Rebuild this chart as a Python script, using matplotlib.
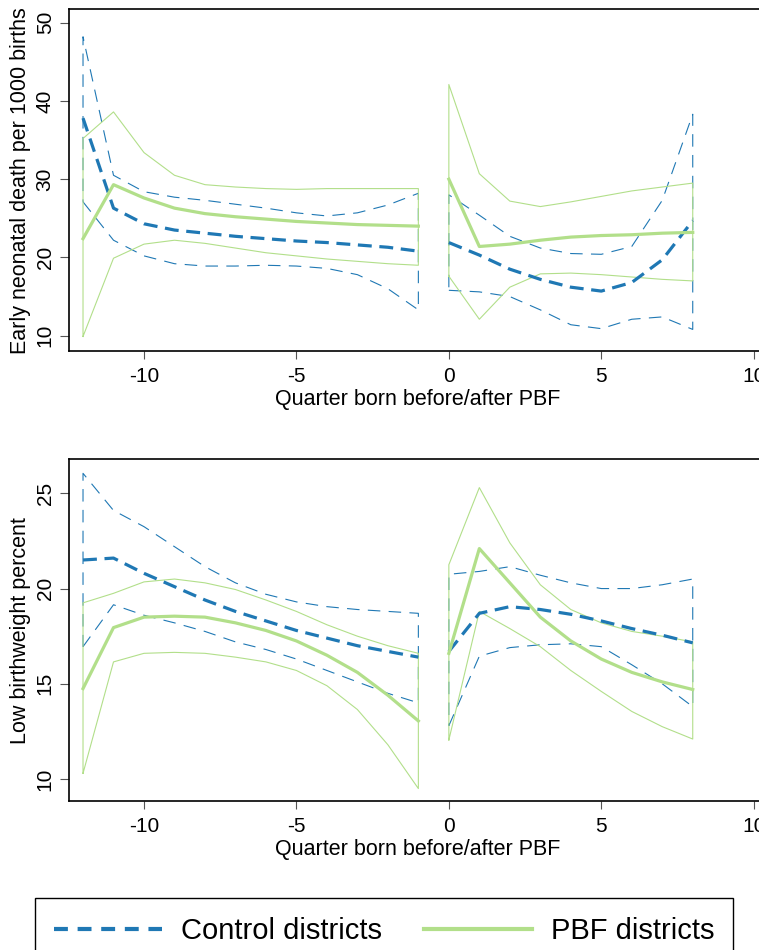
import matplotlib
matplotlib.use('Agg')
import matplotlib.pyplot as plt
from matplotlib.lines import Line2D

plt.rcParams['font.family'] = ['Liberation Sans', 'DejaVu Sans']
plt.rcParams['lines.scale_dashes'] = False
plt.rcParams['axes.unicode_minus'] = False

quarters = [-12, -11, -10, -9, -8, -7, -6, -5, -4, -3, -2, -1,
            0, 1, 2, 3, 4, 5, 6, 7, 8]

# early neonatal death per 1000 births
death_control_mean = [37.8, 26.3, 24.3, 23.5, 23.1, 22.7, 22.4, 22.1, 21.9, 21.6, 21.3, 20.8,
                      21.9, 20.3, 18.5, 17.2, 16.2, 15.7, 16.8, 19.7, 24.7]
death_control_hi = [48.2, 30.5, 28.4, 27.7, 27.3, 26.8, 26.3, 25.7, 25.3, 25.7, 26.7, 28.2,
                    28.0, 25.4, 22.7, 21.2, 20.5, 20.4, 21.4, 27.3, 38.3]
death_control_lo = [27.1, 22.2, 20.2, 19.2, 18.9, 18.9, 19.0, 18.9, 18.6, 17.8, 16.0, 13.3,
                    15.8, 15.6, 15.0, 13.3, 11.4, 10.9, 12.1, 12.4, 10.8]
death_pbf_mean = [22.4, 29.3, 27.6, 26.3, 25.6, 25.2, 24.9, 24.6, 24.4, 24.2, 24.1, 24.0,
                  30.0, 21.4, 21.7, 22.2, 22.6, 22.8, 22.9, 23.1, 23.2]
death_pbf_hi = [35.2, 38.6, 33.4, 30.5, 29.3, 29.0, 28.8, 28.7, 28.8, 28.8, 28.8, 28.8,
                42.1, 30.7, 27.2, 26.5, 27.1, 27.8, 28.5, 29.0, 29.5]
death_pbf_lo = [9.9, 19.9, 21.7, 22.2, 21.8, 21.2, 20.6, 20.2, 19.8, 19.5, 19.2, 19.0,
                17.6, 12.1, 16.2, 17.9, 18.0, 17.8, 17.5, 17.2, 17.0]

# low birthweight percent
lbw_control_mean = [21.5, 21.6, 20.8, 20.1, 19.4, 18.8, 18.3, 17.8, 17.4, 17.0, 16.7, 16.4,
                    16.7, 18.7, 19.05, 18.9, 18.65, 18.3, 17.9, 17.55, 17.15]
lbw_control_hi = [26.05, 24.1, 23.25, 22.2, 21.15, 20.3, 19.7, 19.3, 19.05, 18.9, 18.8, 18.7,
                  20.75, 20.9, 21.15, 20.7, 20.3, 20.0, 20.0, 20.2, 20.5]
lbw_control_lo = [16.95, 19.15, 18.6, 18.2, 17.75, 17.2, 16.8, 16.3, 15.7, 15.1, 14.5, 14.0,
                  12.8, 16.45, 16.9, 17.05, 17.1, 16.95, 16.0, 15.0, 13.8]
lbw_pbf_mean = [14.75, 17.95, 18.5, 18.55, 18.5, 18.2, 17.8, 17.25, 16.5, 15.6, 14.4, 13.05,
                16.6, 22.1, 20.3, 18.5, 17.25, 16.3, 15.6, 15.1, 14.7]
lbw_pbf_hi = [19.25, 19.75, 20.35, 20.5, 20.3, 19.95, 19.4, 18.8, 18.1, 17.5, 17.0, 16.6,
              21.25, 25.3, 22.4, 20.2, 18.9, 18.2, 17.75, 17.5, 17.2]
lbw_pbf_lo = [10.3, 16.15, 16.6, 16.65, 16.6, 16.4, 16.15, 15.7, 14.9, 13.65, 11.8, 9.5,
              12.05, 18.8, 17.9, 16.95, 15.7, 14.6, 13.55, 12.75, 12.1]

BLUE = '#1f78b4'
GREEN = '#b2df8a'
DASH = (0, (10, 5.5))


def segments(values):
  """Split a series into the pre and post PBF pieces."""
  pre = [v for q, v in zip(quarters, values) if q < 0]
  post = [v for q, v in zip(quarters, values) if q >= 0]
  return pre, post


def draw_band(ax, lo, hi, color, style):
  """Outline of the confidence band, closed at both ends, as Stata draws it."""
  for x, l, h in zip(segments(quarters), segments(lo), segments(hi)):
    xs = x + x[::-1] + [x[0]]
    ys = l + h[::-1] + [l[0]]
    ax.plot(xs, ys, color=color, lw=0.8, linestyle=style)


def draw_panel(ax, c_mean, c_lo, c_hi, p_mean, p_lo, p_hi, ylim, yticks, ylabel):
  draw_band(ax, c_lo, c_hi, BLUE, (0, (9, 6)))
  draw_band(ax, p_lo, p_hi, GREEN, '-')
  for x, y in zip(segments(quarters), segments(c_mean)):
    ax.plot(x, y, color=BLUE, lw=2.3, linestyle=DASH)
  for x, y in zip(segments(quarters), segments(p_mean)):
    ax.plot(x, y, color=GREEN, lw=2.3)

  ax.set_xlim(-12.45, 10.42)
  ax.set_ylim(*ylim)
  ax.set_xticks([-10, -5, 0, 5, 10])
  ax.set_yticks(yticks)
  ax.set_yticklabels([str(t) for t in yticks], rotation=90, va='center')
  ax.tick_params(axis='x', length=5.5, width=0.8, color='#555555', pad=6, labelsize=15)
  ax.tick_params(axis='y', length=6.5, width=0.8, color='#555555', pad=4, labelsize=15)
  for side in ['left', 'bottom', 'top']:
    ax.spines[side].set_linewidth(1.2)
  ax.spines['right'].set_visible(False)
  ax.set_xlabel('Quarter born before/after PBF', fontsize=15.5, va='center')
  ax.xaxis.set_label_coords(0.5, -0.142)
  ax.set_ylabel(ylabel, fontsize=15.5, va='center')
  ax.yaxis.set_label_coords(-0.0703, 0.5)


fig = plt.figure(figsize=(7.59, 9.5), dpi=100)
ax_top = fig.add_axes([0.0913, 0.6305, 0.9186, 0.3597])
ax_bot = fig.add_axes([0.0913, 0.1568, 0.9186, 0.3597])

draw_panel(ax_top, death_control_mean, death_control_lo, death_control_hi,
           death_pbf_mean, death_pbf_lo, death_pbf_hi,
           (8.04, 51.71), [10, 20, 30, 40, 50], 'Early neonatal death per 1000 births')
draw_panel(ax_bot, lbw_control_mean, lbw_control_lo, lbw_control_hi,
           lbw_pbf_mean, lbw_pbf_lo, lbw_pbf_hi,
           (8.845, 26.785), [10, 15, 20, 25], 'Low birthweight percent')

handles = [Line2D([], [], color=BLUE, lw=3, linestyle=(0, (10, 7))),
           Line2D([], [], color=GREEN, lw=3)]
leg = fig.legend(handles, ['Control districts', 'PBF districts'], ncol=2,
                 loc='upper left', mode='expand',
                 bbox_to_anchor=(0.0457, 0.0447, 0.9204, 0.01),
                 fontsize=21, handlelength=3.7, handletextpad=0.65,
                 borderpad=0.65, borderaxespad=0, fancybox=False,
                 framealpha=1, edgecolor='black')
leg.get_frame().set_linewidth(1.0)

fig.savefig('out.png', dpi=100)
